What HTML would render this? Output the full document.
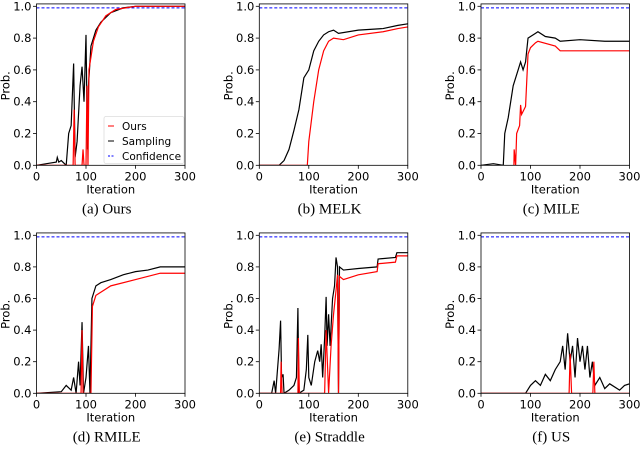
<!DOCTYPE html>
<html><head><meta charset="utf-8"><style>
body{margin:0;background:#fff;width:640px;height:453px;overflow:hidden}
svg{display:block}
text{font-family:"DejaVu Sans","Liberation Sans",sans-serif}
.cap{font-family:"Liberation Serif",serif;font-size:15px}
</style></head><body>
<svg id="fig" width="640" height="453"></svg>
<script>
const panelNames=["(a) Ours","(b) MELK","(c) MILE","(d) RMILE","(e) Straddle","(f) US"];
const xTicks=[0,100,200,300];
const yTicks=[0.0,0.2,0.4,0.6,0.8,1.0];
const confidence=0.99;
const sampX=[
[0,20,40,42,45,50,60,65,70,75,78,82,88,92,96,100,103,105,110,120,130,150,175,200,300],
[0,40,50,60,70,80,90,100,110,120,130,140,150,160,200,250,280,300],
[0,25,45,48,55,65,75,80,85,90,95,110,115,130,150,160,200,250,300],
[0,50,60,70,75,80,85,88,92,95,100,105,108,112,120,130,150,175,200,225,250,300],
[0,25,30,33,40,43,45,48,50,60,70,75,78,80,90,95,98,100,105,112,118,122,125,128,132,135,137,140,143,148,152,155,158,160,162,170,200,238,240,275,278,300],
[0,90,100,110,120,130,140,150,160,165,170,175,180,185,190,195,200,205,210,215,220,225,230,240,250,260,280,290,300]];
const sampY=[
[0,0.01,0.02,0.05,0.02,0.03,0,0.2,0.25,0.64,0.05,0.15,0.5,0.62,0.4,0.82,0.1,0.5,0.75,0.85,0.9,0.96,0.99,1.0,1.0],
[0,0,0.03,0.1,0.22,0.35,0.55,0.6,0.72,0.78,0.82,0.84,0.85,0.83,0.85,0.86,0.88,0.89],
[0,0.01,0,0.2,0.3,0.5,0.6,0.65,0.6,0.65,0.8,0.83,0.84,0.81,0.8,0.78,0.79,0.78,0.78],
[0,0.01,0.05,0.02,0.1,0,0.2,0.05,0.45,0,0.1,0.3,0,0.6,0.68,0.7,0.72,0.75,0.77,0.78,0.8,0.8],
[0,0,0.08,0,0.28,0.46,0.1,0.12,0,0.02,0.05,0.1,0.54,0,0.02,0.15,0.37,0.1,0.05,0.2,0.27,0.2,0.31,0.1,0.35,0.61,0.3,0.5,0.3,0.6,0.68,0.86,0.8,0,0.8,0.78,0.79,0.8,0.85,0.86,0.89,0.89],
[0,0,0.05,0.08,0.05,0.12,0.08,0.15,0.2,0.3,0.15,0.38,0.2,0.3,0.1,0.35,0.2,0.3,0.15,0.3,0.1,0.2,0.05,0.1,0.03,0.06,0.02,0.05,0.06]];
const oursX=[
[0,74,76,78,92,94,96,100,102,104,106,115,125,140,160,200,300],
[0,97,100,110,120,130,140,150,170,200,250,280,300],
[66,67,70,72,78,80,82,90,95,100,110,115,150,160,300],
[0,90,92,94,110,113,120,150,200,250,300],
[0,43,44,46,78,79,81,132,135,140,145,150,155,158,160,162,170,200,238,240,275,278,300],
[0,178,180,183,226,228,230,300]];
const oursY=[
[0,0,0.35,0,0,0.1,0,0,0.5,0,0.6,0.78,0.87,0.94,0.98,1.0,1.0],
[0,0,0.15,0.4,0.6,0.72,0.78,0.8,0.79,0.82,0.84,0.86,0.87],
[-0.1,0.1,0,0.2,0.25,0.38,0.32,0.37,0.7,0.74,0.77,0.78,0.75,0.72,0.72],
[0,0,0.4,0,0,0.55,0.62,0.68,0.72,0.76,0.76],
[0,0,0.2,0,0,0.35,0,0,0.4,0,0.3,0.5,0.65,0.75,0,0.74,0.72,0.75,0.77,0.82,0.83,0.87,0.87],
[0,0,0.25,0,0,0.2,0,0]];

const NS="http://www.w3.org/2000/svg";
const svg=document.getElementById('fig');
function mk(tag,attrs,parent){const e=document.createElementNS(NS,tag);for(const k in attrs)e.setAttribute(k,attrs[k]);(parent||svg).appendChild(e);return e;}
const lefts=[36.5,259.3,481];
const rows=[{y0:165.3,y1:6.3},{y0:393.3,y1:235.3}];
const W=148.5;
for(let p=0;p<6;p++){
  const L=lefts[p%3],R=rows[Math.floor(p/3)];
  const sx=v=>L+v/300*W;
  const sy=v=>R.y0-(v)*(R.y0-R.y1);
  const g=mk('g',{});
  
  
  const clipId='c'+p;
  const cp=mk('clipPath',{id:clipId},g);
  mk('rect',{x:L,y:sy(1.015),width:W,height:R.y0-sy(1.015)},cp);
  const conf=mk('line',{x1:L,x2:L+W,y1:sy(confidence),y2:sy(confidence),stroke:'#0000ff','stroke-width':1,'stroke-dasharray':'3,2'},g);
  
  
  const sp=mk('polyline',{points:sampX[p].map((x,i)=>sx(x)+','+sy(sampY[p][i])).join(' '),fill:'none',stroke:'#000','stroke-width':1.2,'clip-path':'url(#'+clipId+')'},g);
  
  
  const op=mk('polyline',{points:oursX[p].map((x,i)=>sx(x)+','+sy(oursY[p][i])).join(' '),fill:'none',stroke:'#ff0000','stroke-width':1.2,'clip-path':'url(#'+clipId+')'},g);
  
  
  const fr=mk('rect',{x:L,y:sy(1.015),width:W,height:R.y0-sy(1.015),fill:'none',stroke:'#000','stroke-width':0.8},g);
  
  
  xTicks.forEach(t=>{
    mk('line',{x1:sx(t),x2:sx(t),y1:R.y0,y2:R.y0+3.5,stroke:'#000','stroke-width':0.8},g);
    const tx=mk('text',{x:sx(t),y:R.y0+15,'text-anchor':'middle','font-size':11.5},g);
    tx.textContent=t;
    
    
  });
  yTicks.forEach(t=>{
    mk('line',{x1:L-3.5,x2:L,y1:sy(t),y2:sy(t),stroke:'#000','stroke-width':0.8},g);
    const tx=mk('text',{x:L-5,y:sy(t)+4,'text-anchor':'end','font-size':11.5},g);
    tx.textContent=t.toFixed(1);
    
    
  });
  const xl=mk('text',{x:L+W/2,y:R.y0+28,'text-anchor':'middle','font-size':11.5},g);
  xl.textContent='Iteration';
  
  
  const ym=(R.y0+R.y1)/2;
  const yl=mk('text',{x:L-27,y:ym,'text-anchor':'middle','font-size':11.5,transform:'rotate(-90 '+(L-27)+' '+ym+')'},g);
  yl.textContent='Prob.';
  
  
  const cap=mk('text',{x:L+W/2-4,y:R.y0+48,'text-anchor':'middle','class':'cap'},g);
  cap.textContent=panelNames[p];
  
  
  if(p===0){
    const lg=mk('g',{},g);
    
    
    mk('rect',{x:104,y:116.5,width:80,height:47,fill:'#fff',stroke:'#ddd','stroke-width':0.8,rx:2},lg);
    const items=[['Ours','#ff0000',''],['Sampling','#000',''],['Confidence','#0000ff','2,1.5']];
    items.forEach((it,i)=>{
      const y=126+i*15;
      mk('line',{x1:108,x2:114,y1:y,y2:y,stroke:it[1],'stroke-width':1,'stroke-dasharray':it[2]},lg);
      const t=mk('text',{x:122,y:y+4,'font-size':10.5},lg);
      t.textContent=it[0];
      
      
    });
  }
}
</script>
</body></html>
